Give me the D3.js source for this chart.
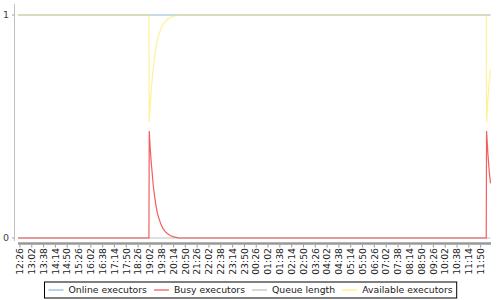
<!DOCTYPE html>
<html lang="en">
<head>
  <meta charset="UTF-8">
  <title>Load statistics</title>
  <script src="https://d3js.org/d3.v7.min.js"></script>
  <style>
    body, html { margin: 0; padding: 0; background: #fff; }
    svg { display: block; font-family: "DejaVu Sans", sans-serif; }
  </style>
</head>
<body>
  <svg width="500" height="300"></svg>
  <script>
    // sample times (HH:MM, rolls over to the next day when the clock goes back)
    const times = ["12:20", "18:59", "19:00", "19:03", "19:06", "19:09", "19:12", "19:16", "19:20",
                   "19:25", "19:30", "19:36", "19:42", "19:48", "19:55", "20:05", "20:15", "20:30",
                   "12:07", "12:08", "12:12", "12:16", "12:20"];
    const onlineExecutors = [1, 1, 1, 1, 1, 1, 1, 1, 1, 1, 1, 1, 1, 1, 1, 1, 1, 1, 1, 1, 1, 1, 1];
    const busyExecutors = [0, 0, 0.48, 0.40, 0.34, 0.29, 0.24, 0.19, 0.15, 0.11, 0.085, 0.06, 0.042,
                           0.03, 0.02, 0.01, 0.005, 0, 0, 0.48, 0.38, 0.30, 0.245];
    const queueLength = [0, 0, 0, 0, 0, 0, 0, 0, 0, 0, 0, 0, 0, 0, 0, 0, 0, 0, 0, 0, 0, 0, 0];
    const availableExecutors = [1, 1, 0.52, 0.60, 0.66, 0.71, 0.76, 0.81, 0.85, 0.89, 0.915, 0.94,
                                0.958, 0.97, 0.98, 0.99, 0.995, 1, 1, 0.52, 0.62, 0.70, 0.755];

    const tickLabels = ["12:26", "13:02", "13:38", "14:14", "14:50", "15:26", "16:02", "16:38", "17:14",
                        "17:50", "18:26", "19:02", "19:38", "20:14", "20:50", "21:26", "22:02", "22:38",
                        "23:14", "23:50", "00:26", "01:02", "01:38", "02:14", "02:50", "03:26", "04:02",
                        "04:38", "05:14", "05:50", "06:26", "07:02", "07:38", "08:14", "08:50", "09:26",
                        "10:02", "10:38", "11:14", "11:50"];
    const yTicks = [0, 1];

    const seriesNames = ["Online executors", "Busy executors", "Queue length", "Available executors"];
    const seriesColors = ["#729fcf", "#ef2929", "#ababab", "#fce94f"];
    const seriesAlpha = [0.8, 0.75, 0.75, 0.6];

    const svg = d3.select("svg");
    const parseHM = d3.timeParse("%H:%M");

    // turn HH:MM strings into dates, adding a day whenever the clock wraps
    function toDates(list) {
      let day = 0, prev = -1;
      return list.map(s => {
        const d = parseHM(s);
        const m = d.getHours() * 60 + d.getMinutes();
        if (m < prev) day++;
        prev = m;
        return d3.timeDay.offset(d, day);
      });
    }

    const dates = toDates(times);
    const tickDates = toDates(tickLabels);

    const x = d3.scaleTime()
      .domain(d3.extent(dates))
      .range([18, 490.5]);
    const y = d3.scaleLinear()
      .domain([0, 1])
      .range([238, 15]);

    // y axis
    svg.append("line")
      .attr("x1", 14.5).attr("x2", 14.5)
      .attr("y1", 4).attr("y2", 241)
      .attr("stroke", "#c0c0c0");
    const yt = svg.append("g").selectAll("g")
      .data(yTicks).enter().append("g")
      .attr("transform", d => `translate(0,${y(d)})`);
    yt.append("line")
      .attr("x1", 12).attr("x2", 14.5)
      .attr("stroke", "#a0a0a0");
    yt.append("text")
      .attr("x", 9).attr("dy", "0.35em")
      .attr("text-anchor", "end")
      .attr("font-size", "9.5px")
      .attr("fill", "#444")
      .text(d => d);

    // x axis band
    svg.append("line")
      .attr("x1", 18).attr("x2", 491)
      .attr("y1", 243.5).attr("y2", 243.5)
      .attr("stroke", "#999")
      .attr("stroke-width", 2.5);
    const xt = svg.append("g").selectAll("g")
      .data(tickDates).enter().append("g")
      .attr("transform", d => `translate(${x(d)},0)`);
    xt.append("line")
      .attr("y1", 245).attr("y2", 247.5)
      .attr("stroke", "#999");
    xt.append("text")
      .attr("transform", "translate(0,248) rotate(-90)")
      .attr("dy", "0.35em")
      .attr("text-anchor", "end")
      .attr("font-size", "9.3px")
      .attr("fill", "#222")
      .text((d, i) => tickLabels[i]);

    // lines (drawing order: online, queue, busy, available)
    const seriesValues = [onlineExecutors, busyExecutors, queueLength, availableExecutors];
    const line = d3.line()
      .x((d, i) => x(dates[i]))
      .y(d => y(d));
    [0, 2, 1, 3].forEach(k => {
      svg.append("path")
        .datum(seriesValues[k])
        .attr("fill", "none")
        .attr("stroke", seriesColors[k])
        .attr("stroke-opacity", seriesAlpha[k])
        .attr("stroke-width", 1.2)
        .attr("d", line);
    });

    // legend
    const legend = svg.append("g");
    let cursor = 0;
    seriesNames.forEach((name, i) => {
      const g = legend.append("g");
      g.append("line")
        .attr("x1", 0).attr("x2", 15)
        .attr("y1", 0).attr("y2", 0)
        .attr("stroke", seriesColors[i])
        .attr("stroke-opacity", 0.8)
        .attr("stroke-width", 1.2);
      const t = g.append("text")
        .attr("x", 20).attr("dy", "0.35em")
        .attr("font-size", "9.3px")
        .attr("fill", "#222")
        .text(name);
      g.attr("transform", `translate(${cursor},0)`);
      cursor += 20 + t.node().getComputedTextLength() + 7;
    });
    const legendW = cursor - 7 + 8;
    const lx = Math.round(250 - legendW / 2) + 0.5;
    legend.insert("rect", ":first-child")
      .attr("x", -4).attr("y", -8)
      .attr("width", legendW).attr("height", 16)
      .attr("fill", "#fff")
      .attr("stroke", "#000");
    legend.attr("transform", `translate(${lx + 4},290)`);
  </script>
</body>
</html>
